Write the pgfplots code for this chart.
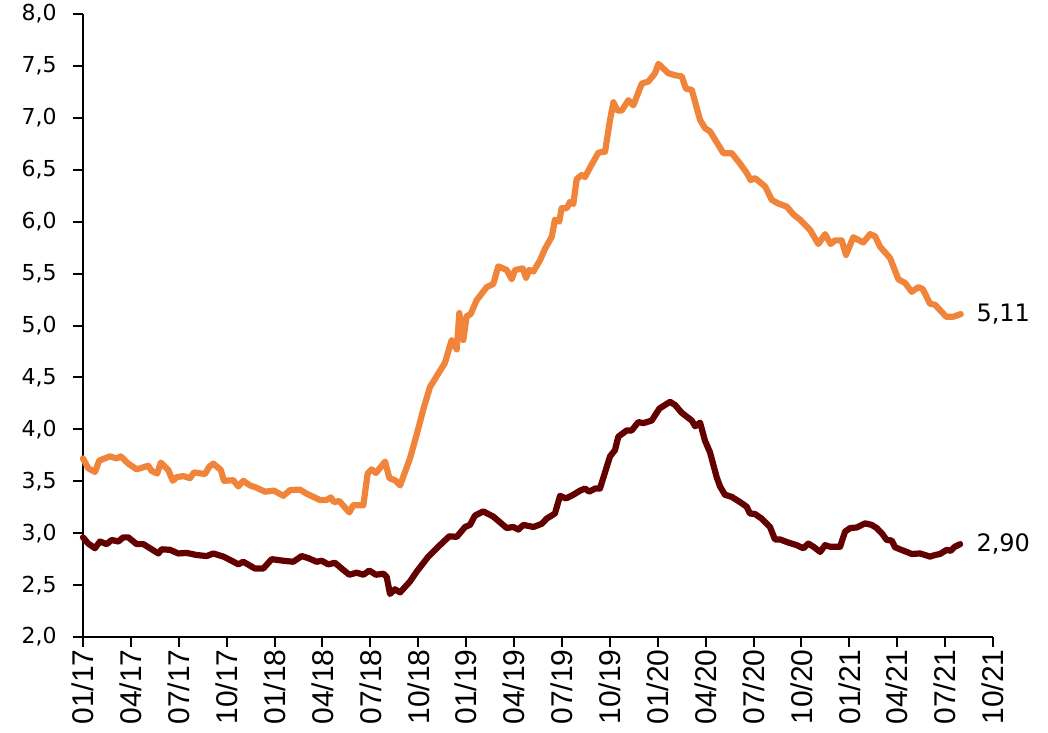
\documentclass[border=0pt]{standalone}
\usepackage{fontspec}
\setmainfont{DejaVu Sans}
\newfontfamily\xfont{Liberation Sans}
\usepackage{pgfplots}
\pgfplotsset{compat=1.18}

\definecolor{orangeline}{HTML}{F0843A}
\definecolor{maroonline}{HTML}{630000}

% x = months since 01/2017
\pgfplotstableread{
x y
0.00 3.72
0.33 3.625
0.75 3.59
1.02 3.70
1.69 3.74
2.11 3.72
2.36 3.74
2.84 3.67
3.36 3.615
4.09 3.65
4.30 3.60
4.65 3.575
4.87 3.68
5.34 3.61
5.62 3.505
5.87 3.54
6.28 3.55
6.70 3.53
6.95 3.585
7.64 3.57
7.91 3.64
8.16 3.67
8.63 3.61
8.83 3.505
9.41 3.51
9.73 3.45
10.04 3.505
10.46 3.46
10.84 3.44
11.40 3.40
11.96 3.41
12.55 3.36
12.97 3.415
13.59 3.42
14.01 3.38
14.84 3.32
15.26 3.32
15.52 3.345
15.72 3.30
16.05 3.31
16.68 3.20
16.93 3.27
17.56 3.27
17.83 3.575
18.08 3.615
18.35 3.58
18.92 3.69
19.19 3.53
19.54 3.51
19.86 3.46
20.48 3.72
20.90 3.95
21.32 4.195
21.74 4.41
22.67 4.64
23.09 4.86
23.41 4.77
23.57 5.12
23.82 4.86
24.03 5.09
24.28 5.11
24.66 5.245
25.29 5.37
25.70 5.40
26.01 5.57
26.54 5.535
26.85 5.445
27.06 5.535
27.54 5.55
27.75 5.46
27.95 5.535
28.21 5.52
28.63 5.63
28.94 5.74
29.36 5.855
29.56 6.02
29.83 6.00
29.98 6.13
30.30 6.13
30.50 6.19
30.71 6.17
30.92 6.41
31.24 6.45
31.44 6.43
31.86 6.55
32.28 6.665
32.70 6.675
33.01 6.98
33.22 7.15
33.47 7.07
33.74 7.07
34.16 7.17
34.47 7.12
35.00 7.33
35.41 7.35
35.83 7.43
36.04 7.52
36.66 7.43
37.08 7.41
37.50 7.40
37.77 7.28
38.13 7.27
38.65 6.98
38.96 6.90
39.27 6.87
40.11 6.66
40.63 6.66
41.15 6.56
41.57 6.47
41.82 6.40
42.09 6.42
42.72 6.34
43.14 6.21
43.55 6.175
44.08 6.145
44.49 6.07
44.91 6.02
45.54 5.92
46.06 5.785
46.48 5.88
46.83 5.785
47.10 5.82
47.52 5.82
47.79 5.68
48.25 5.85
48.87 5.80
49.30 5.88
49.61 5.86
49.92 5.76
50.55 5.65
51.07 5.445
51.49 5.41
51.91 5.325
52.32 5.37
52.60 5.35
53.05 5.21
53.37 5.20
54.06 5.085
54.51 5.085
54.98 5.11
}\orangedata

\pgfplotstableread{
x y
0.00 2.96
0.33 2.90
0.75 2.855
1.06 2.92
1.48 2.895
1.80 2.935
2.21 2.92
2.52 2.96
2.84 2.96
3.36 2.895
3.78 2.895
4.20 2.855
4.72 2.805
4.93 2.845
5.45 2.84
5.97 2.805
6.50 2.81
7.12 2.79
7.75 2.78
8.16 2.805
8.79 2.775
9.31 2.735
9.73 2.70
10.04 2.725
10.77 2.66
11.29 2.66
11.82 2.75
12.55 2.735
13.17 2.725
13.70 2.78
14.11 2.76
14.64 2.725
14.95 2.735
15.36 2.70
15.78 2.715
16.20 2.66
16.68 2.60
17.14 2.62
17.56 2.60
17.93 2.64
18.35 2.60
18.81 2.61
19.02 2.58
19.23 2.415
19.54 2.46
19.86 2.43
20.48 2.535
20.90 2.63
21.63 2.775
22.15 2.855
22.94 2.97
23.41 2.965
23.93 3.06
24.24 3.08
24.55 3.17
25.07 3.21
25.70 3.16
26.54 3.05
26.95 3.06
27.27 3.035
27.58 3.08
28.21 3.06
28.73 3.09
29.04 3.14
29.56 3.19
29.88 3.36
30.25 3.335
30.71 3.37
31.13 3.41
31.44 3.43
31.71 3.40
32.07 3.43
32.38 3.43
33.01 3.74
33.32 3.80
33.53 3.93
34.06 3.99
34.37 3.99
34.78 4.07
35.10 4.06
35.62 4.085
36.10 4.20
36.35 4.225
36.77 4.265
37.08 4.235
37.50 4.16
38.13 4.085
38.34 4.03
38.65 4.065
38.96 3.89
39.27 3.78
39.69 3.54
39.90 3.45
40.21 3.37
40.63 3.35
41.15 3.30
41.57 3.255
41.77 3.19
42.09 3.185
42.51 3.14
43.03 3.06
43.34 2.94
43.66 2.94
44.18 2.91
44.70 2.885
45.12 2.855
45.43 2.90
45.75 2.87
46.17 2.82
46.48 2.885
46.79 2.87
47.42 2.87
47.73 3.015
48.05 3.05
48.46 3.055
48.98 3.095
49.40 3.08
49.71 3.05
50.03 3.00
50.34 2.935
50.65 2.93
50.86 2.865
51.17 2.845
51.59 2.82
51.91 2.80
52.43 2.805
53.05 2.775
53.37 2.79
53.68 2.80
54.10 2.84
54.35 2.83
54.61 2.87
54.94 2.895
}\maroondata

\begin{document}
\begin{tikzpicture}
\begin{axis}[
    scale only axis,
    width=455pt, height=311.5pt,
    xmin=0, xmax=57, ymin=2, ymax=8,
    axis lines=left,
    every outer x axis line/.append style={-},
    every outer y axis line/.append style={-},
    every inner x axis line/.append style={-},
    every inner y axis line/.append style={-},
    axis line style={line width=1pt, black},
    tick align=outside,
    major tick length=5pt,
    tick style={line width=1pt, black},
    xtick={0,3,...,57},
    xticklabels={01/17,04/17,07/17,10/17,01/18,04/18,07/18,10/18,01/19,04/19,07/19,10/19,01/20,04/20,07/20,10/20,01/21,04/21,07/21,10/21},
    x tick label style={font=\xfont\fontsize{15}{15}\selectfont, rotate=90, anchor=east, inner sep=1pt},
    ytick={2,2.5,...,8},
    y tick label style={font=\fontsize{11}{12}\selectfont, inner sep=0pt, xshift=-8pt},
    /pgf/number format/assume math mode=true,
    yticklabel style={/pgf/number format/.cd, fixed, fixed zerofill, precision=1, use comma},
    clip=false,
]
\path (rel axis cs:-0.0912,-0.1525) rectangle (rel axis cs:1.0604,1.0225);
\addplot[color=orangeline, line width=3.1pt, line join=round, line cap=round] table[x=x, y=y] {\orangedata};
\addplot[color=maroonline, line width=3.1pt, line join=round, line cap=round] table[x=x, y=y] {\maroondata};
\node[anchor=west, inner sep=0pt, font=\fontsize{12}{12}\selectfont] at (axis cs:55.94,5.11) {5,11};
\node[anchor=west, inner sep=0pt, font=\fontsize{12}{12}\selectfont] at (axis cs:55.94,2.90) {2,90};
\end{axis}
\end{tikzpicture}
\end{document}
